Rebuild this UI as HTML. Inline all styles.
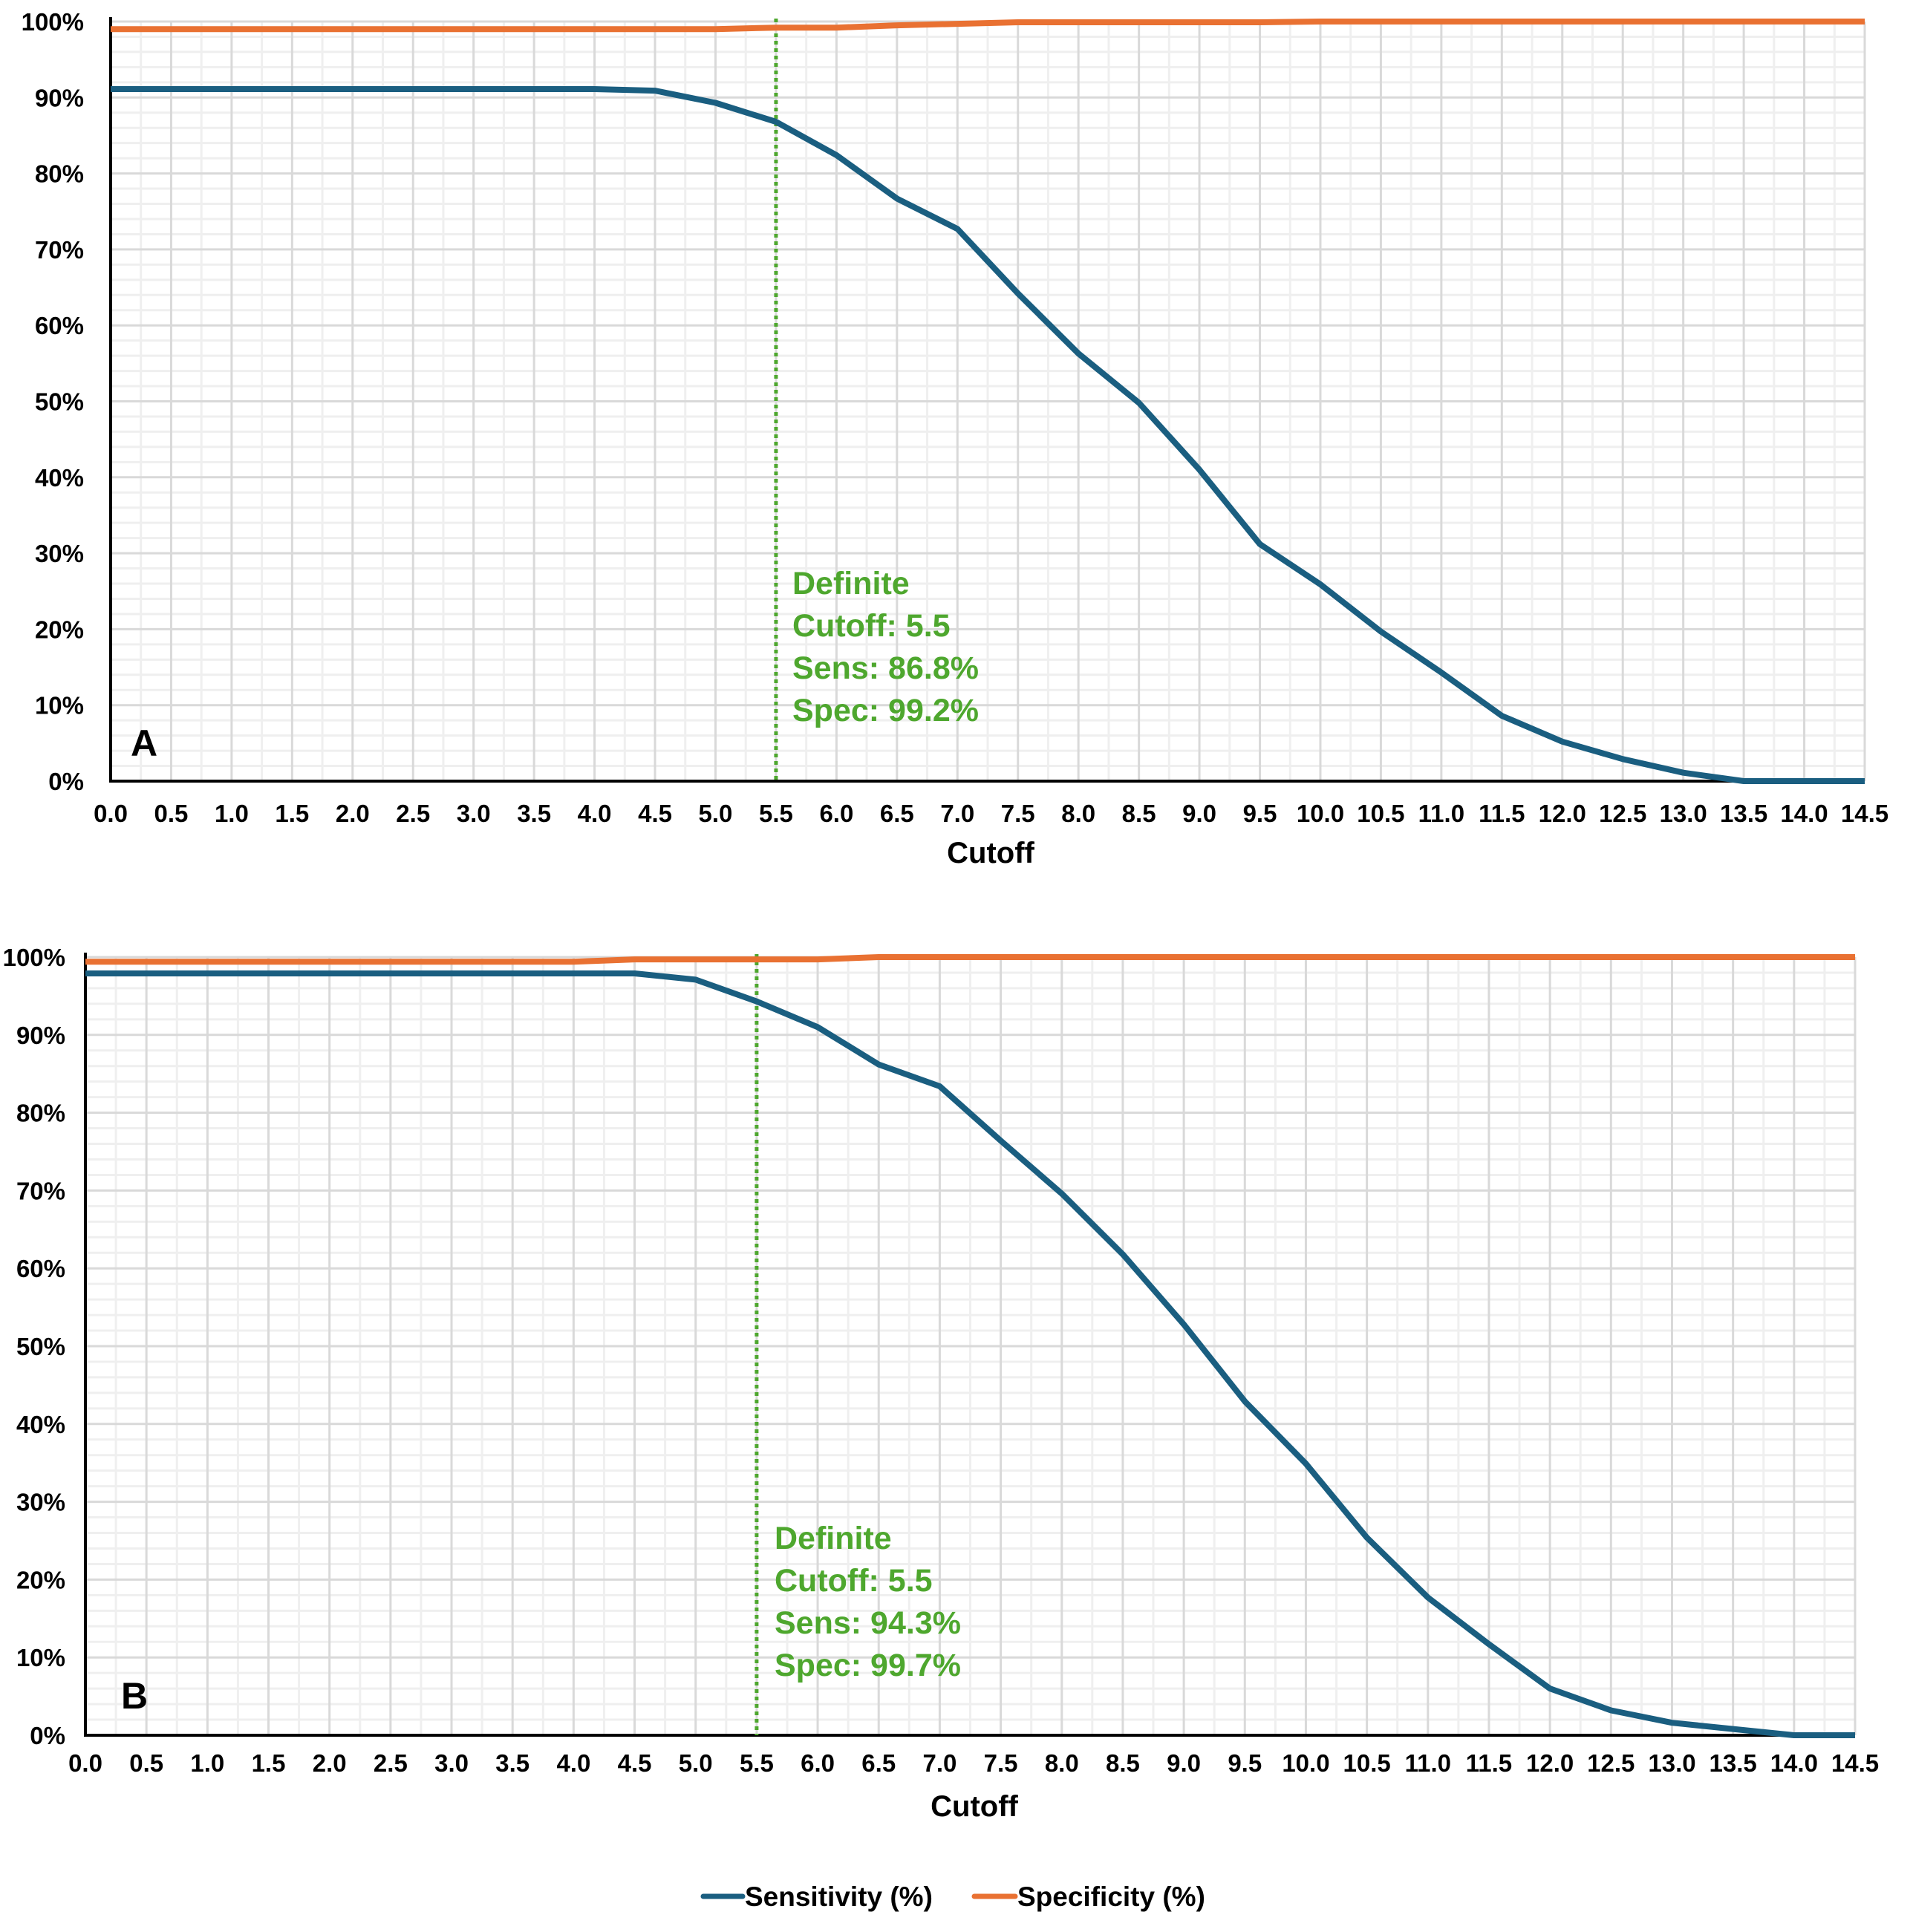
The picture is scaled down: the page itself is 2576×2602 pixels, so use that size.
<!DOCTYPE html>
<html><head><meta charset="utf-8">
<style>
html,body{margin:0;padding:0;background:#fff;}
svg{display:block;}
.tick{font-family:"Liberation Sans Narrow","Liberation Sans",sans-serif;font-weight:bold;font-size:33px;fill:#000;}
.ttl{font-family:"Liberation Sans Narrow","Liberation Sans",sans-serif;font-weight:bold;font-size:40px;fill:#000;}
.ann{font-family:"Liberation Sans",sans-serif;font-weight:bold;font-size:43px;fill:#4EA72E;}
.pl{font-family:"Liberation Sans",sans-serif;font-weight:bold;font-size:50px;fill:#000;}
</style></head>
<body>
<svg id="chart" width="2576" height="2602" viewBox="0 0 2576 2602" xmlns="http://www.w3.org/2000/svg">
  <g id="panelA"></g>
  <g id="panelB"></g>
  <g id="legend">
    <line x1="947" y1="2554" x2="1000" y2="2554" stroke="#1A5E80" stroke-width="7" stroke-linecap="round"/>
    <text x="1003" y="2567" class="ttl" style="font-size:37px">Sensitivity (%)</text>
    <line x1="1312" y1="2554" x2="1367" y2="2554" stroke="#E97132" stroke-width="7" stroke-linecap="round"/>
    <text x="1370" y="2567" class="ttl" style="font-size:37px">Specificity (%)</text>
  </g>
</svg>
<script>
const cutoffs = [0,0.5,1,1.5,2,2.5,3,3.5,4,4.5,5,5.5,6,6.5,7,7.5,8,8.5,9,9.5,10,10.5,11,11.5,12,12.5,13,13.5,14,14.5];
const sensA = [91.1,91.1,91.1,91.1,91.1,91.1,91.1,91.1,91.1,90.9,89.3,86.8,82.4,76.7,72.7,64.2,56.3,49.8,41.0,31.2,25.9,19.7,14.3,8.6,5.2,2.9,1.1,0,0,0];
const specA = [99.0,99.0,99.0,99.0,99.0,99.0,99.0,99.0,99.0,99.0,99.0,99.2,99.2,99.5,99.7,99.9,99.9,99.9,99.9,99.9,100,100,100,100,100,100,100,100,100,100];
const sensB = [97.9,97.9,97.9,97.9,97.9,97.9,97.9,97.9,97.9,97.9,97.1,94.3,91.0,86.2,83.4,76.4,69.6,61.8,52.8,42.9,34.9,25.4,17.7,11.7,6.0,3.2,1.6,0.8,0,0];
const specB = [99.4,99.4,99.4,99.4,99.4,99.4,99.4,99.4,99.4,99.7,99.7,99.7,99.7,100,100,100,100,100,100,100,100,100,100,100,100,100,100,100,100,100];
const xTicks = ["0.0","0.5","1.0","1.5","2.0","2.5","3.0","3.5","4.0","4.5","5.0","5.5","6.0","6.5","7.0","7.5","8.0","8.5","9.0","9.5","10.0","10.5","11.0","11.5","12.0","12.5","13.0","13.5","14.0","14.5"];
const yTicks = [0,10,20,30,40,50,60,70,80,90,100];
const annA = ["Definite","Cutoff: 5.5","Sens: 86.8%","Spec: 99.2%"];
const annB = ["Definite","Cutoff: 5.5","Sens: 94.3%","Spec: 99.7%"];
const cutoffValue = 5.5;

const NS = "http://www.w3.org/2000/svg";
function mk(tag, attrs, parent){
  const e = document.createElementNS(NS, tag);
  for (const k in attrs) e.setAttribute(k, attrs[k]);
  parent.appendChild(e);
  return e;
}

function drawPanel(g, cfg, sens, spec, ann, letter){
  const xs = v => cfg.x0 + (v/14.5)*(cfg.x1-cfg.x0);
  const ys = v => cfg.y0 - (v/100)*(cfg.y0-cfg.y1);
  for (let v=0; v<=100.001; v+=2){
    if (Math.abs(v%10)<0.01) continue;
    const l = mk('line',{x1:cfg.x0,x2:cfg.x1,y1:ys(v),y2:ys(v),stroke:'#efefef','stroke-width':3},g);
    
    
  }
  for (let v=0.25; v<14.5; v+=0.5){
    const l = mk('line',{x1:xs(v),x2:xs(v),y1:cfg.y1,y2:cfg.y0,stroke:'#efefef','stroke-width':3},g);
    
    
  }
  yTicks.forEach(v=>{
    const l = mk('line',{x1:cfg.x0,x2:cfg.x1,y1:ys(v),y2:ys(v),stroke:'#d9d9d9','stroke-width':3},g);
    
    
    const t = mk('text',{x:cfg.lx,y:ys(v)+12,'text-anchor':'end',class:'tick'},g);
    t.textContent = v+'%';
    
    
  });
  cutoffs.forEach((c,i)=>{
    const l = mk('line',{x1:xs(c),x2:xs(c),y1:cfg.y1,y2:cfg.y0,stroke:'#d9d9d9','stroke-width':3},g);
    
    
    const t = mk('text',{x:xs(c),y:cfg.ty,'text-anchor':'middle',class:'tick'},g);
    t.textContent = xTicks[i];
    
    
  });
  const ax = mk('path',{d:`M${cfg.x0},${cfg.y1-6} L${cfg.x0},${cfg.y0} L${cfg.x1},${cfg.y0}`,fill:'none',stroke:'#000','stroke-width':4},g);
  
  
  const dl = mk('line',{x1:xs(cutoffValue),x2:xs(cutoffValue),y1:cfg.y1-4,y2:cfg.y0,stroke:'#4EA72E','stroke-width':5,'stroke-dasharray':'5 5'},g);
  
  
  const pts = arr => arr.map((v,i)=>xs(cutoffs[i]).toFixed(1)+','+ys(v).toFixed(1)).join(' ');
  const sp = mk('polyline',{points:pts(spec),fill:'none',stroke:'#E97132','stroke-width':8,'stroke-linejoin':'round'},g);
  
  
  const se = mk('polyline',{points:pts(sens),fill:'none',stroke:'#1A5E80','stroke-width':8,'stroke-linejoin':'round'},g);
  
  
  ann.forEach((s,i)=>{
    const t = mk('text',{x:cfg.ax,y:cfg.ay+i*57,class:'ann'},g);
    t.textContent = s;
    
    
  });
  const pl = mk('text',{x:cfg.px,y:cfg.py,class:'pl'},g);
  pl.textContent = letter;
  
  
  const xt = mk('text',{x:cfg.cx,y:cfg.cy,'text-anchor':'middle',class:'ttl'},g);
  xt.textContent = 'Cutoff';
  
  
}

drawPanel(document.getElementById('panelA'),
  {x0:149,x1:2511,y0:1052,y1:29,lx:113,ty:1107,ax:1067,ay:800,px:176,py:1018,cx:1334,cy:1162},
  sensA, specA, annA, 'A');
drawPanel(document.getElementById('panelB'),
  {x0:115,x1:2498,y0:2337,y1:1289,lx:88,ty:2386,ax:1043,ay:2086,px:163,py:2301,cx:1312,cy:2446},
  sensB, specB, annB, 'B');
</script>
</body></html>
